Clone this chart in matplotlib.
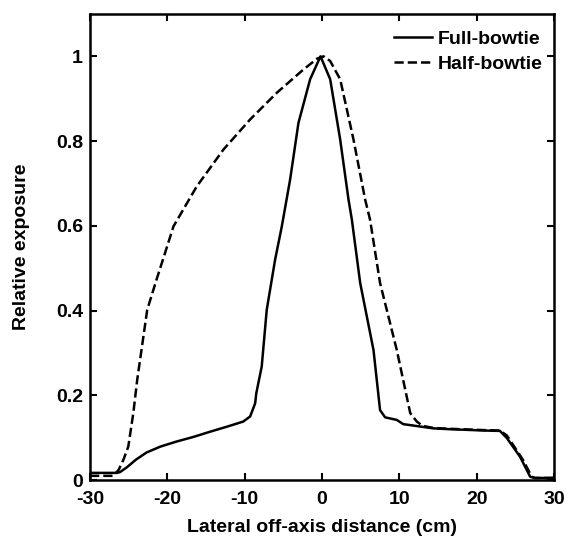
import matplotlib
matplotlib.use("Agg")
import matplotlib.pyplot as plt

plt.rcParams['font.family'] = ['Liberation Sans', 'DejaVu Sans']
plt.rcParams['font.weight'] = 'bold'

# full-bowtie profile (solid)
full_x = [-30, -27, -26.5, -26.1, -25.25, -24, -22.7, -20.9, -18.8, -16.6, -14.5, -12.3,
          -10.2, -9.3, -8.65, -8.5, -7.8, -7.15, -6.07, -5.2, -4.13, -3.05, -1.54, -0.2,
          1.05, 2.34, 3.42, 3.85, 4.93, 6.65, 7.5, 8.16, 9.66, 10.5, 14.4, 16.6, 20.9,
          23.0, 23.9, 25.6, 26.9, 27.5, 30]
full_y = [0.017, 0.017, 0.017, 0.019, 0.03, 0.049, 0.065, 0.079, 0.091, 0.102, 0.114, 0.126,
          0.138, 0.15, 0.181, 0.205, 0.268, 0.402, 0.52, 0.599, 0.709, 0.843, 0.946, 1.0,
          0.946, 0.804, 0.662, 0.615, 0.465, 0.307, 0.165, 0.148, 0.142, 0.132, 0.122, 0.12, 0.117,
          0.116, 0.099, 0.055, 0.008, 0.005, 0.005]

# half-bowtie profile (dashed)
half_x = [-30, -27, -26.3, -25.7, -25.05, -24.4, -23.9, -22.6, -21.4, -19.2, -16.2, -12.75,
          -9.3, -5.85, -2.4, -0.6, 0.2, 1.05, 2.34, 4.06, 5.57, 6.2, 7.5, 9.66, 11.4, 12.25, 13.0,
          14.4, 16.6, 20.9, 23.0, 23.9, 26.0, 27.1, 27.5, 30]
half_y = [0.01, 0.01, 0.024, 0.047, 0.079, 0.158, 0.236, 0.402, 0.473, 0.599, 0.693, 0.78,
          0.851, 0.914, 0.969, 0.995, 1.0, 0.989, 0.946, 0.804, 0.662, 0.615, 0.465, 0.307, 0.158, 0.138, 0.128,
          0.123, 0.121, 0.118, 0.117, 0.105, 0.047, 0.008, 0.005, 0.005]

xticks = [-30, -20, -10, 0, 10, 20, 30]
yticks = [0, 0.2, 0.4, 0.6, 0.8, 1]
ytick_labels = ["0", "0.2", "0.4", "0.6", "0.8", "1"]

fig = plt.figure(figsize=(5.66, 5.37), dpi=100)
ax = fig.add_axes([0.159, 0.106, 0.82, 0.868])

ax.plot(full_x, full_y, color="black", lw=1.8, label="Full-bowtie")
ax.plot(half_x, half_y, color="black", lw=1.8, ls="--", label="Half-bowtie")

ax.set_xlim(-30, 30)
ax.set_ylim(0, 1.1)
ax.set_xticks(xticks)
ax.set_xticklabels([str(t) for t in xticks])
ax.set_yticks(yticks)
ax.set_yticklabels(ytick_labels)
ax.tick_params(direction="in", length=5, width=1.5, top=True, right=True, labelsize=14)
ax.tick_params(axis="x", pad=8)
ax.tick_params(axis="y", pad=5)
for s in ax.spines.values():
    s.set_linewidth(1.8)

ax.set_xlabel("Lateral off-axis distance (cm)", fontsize=14, fontweight="bold", labelpad=8)
ax.set_ylabel("Relative exposure", fontsize=14, fontweight="bold", labelpad=19)

ax.legend(loc="upper right", bbox_to_anchor=(1.01, 1.0), frameon=False, fontsize=14,
          handlelength=2.0, handletextpad=0.25, borderaxespad=0.45, labelspacing=0.35)

fig.savefig("out.png", dpi=100)
